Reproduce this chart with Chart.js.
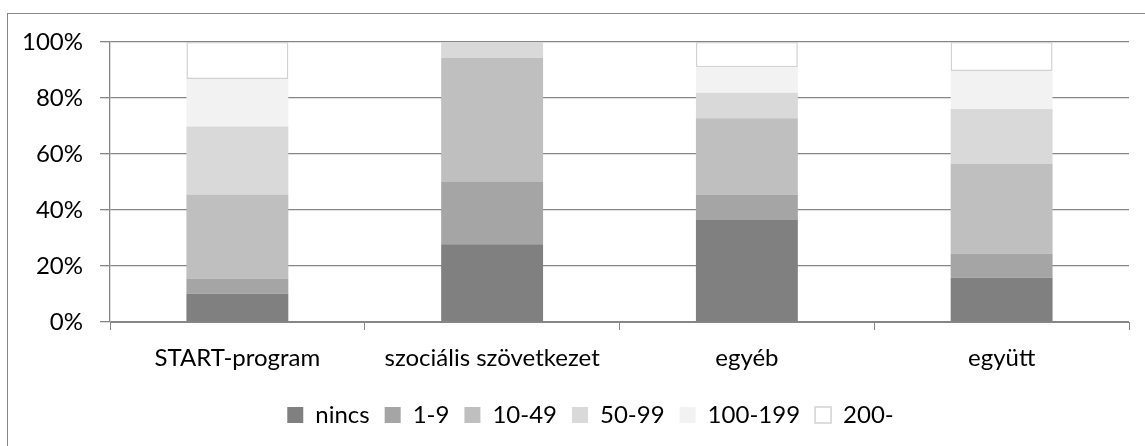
<!DOCTYPE html>
<html>
<head>
<meta charset="utf-8">
<script src="https://cdn.jsdelivr.net/npm/chart.js@4/dist/chart.umd.min.js"></script>
<style>
  html, body { margin: 0; padding: 0; background: #fff; overflow: hidden; }
  #frame { position: absolute; left: 7px; top: 13px; width: 1200px; height: 500px; border: 1px solid #868686; box-sizing: border-box; }
  #c { position: absolute; left: 0; top: 0; }
</style>
</head>
<body>
<div id="frame"></div>
<canvas id="c" width="1145" height="446"></canvas>
<script>
const categories = ["START-program", "szociális szövetkezet", "egyéb", "együtt"];
const seriesNames = ["nincs", "1-9", "10-49", "50-99", "100-199", "200-"];
const nincs = [10.1, 27.8, 36.4, 15.8];
const s1_9 = [5.4, 22.2, 9.1, 8.7];
const s10_49 = [30.0, 44.4, 27.3, 32.0];
const s50_99 = [24.3, 5.6, 9.1, 19.6];
const s100_199 = [17.0, 0, 9.1, 13.5];
const s200 = [13.2, 0, 9.0, 10.4];
const yTicks = [0, 20, 40, 60, 80, 100];

const fills = ["#808080", "#a5a5a5", "#bfbfbf", "#d9d9d9", "#f2f2f2", "#ffffff"];
const values = [nincs, s1_9, s10_49, s50_99, s100_199, s200];
const font = { family: "Lato, 'Open Sans', sans-serif", size: 24 };
const axisGray = "#868686";

const datasets = seriesNames.map((name, i) => ({
  label: name,
  data: values[i],
  backgroundColor: fills[i],
  borderColor: i === 5 ? "#d2d2d2" : fills[i],
  borderWidth: i === 5 ? 1.5 : 0,
  borderSkipped: false,
  categoryPercentage: 1,
  barPercentage: 0.4
}));

// the legend in the original is centred on the whole (wider) chart box, so nudge it right
const legendShift = {
  id: "legendShift",
  afterLayout(chart) {
    chart.legend.left += 26;
    chart.legend.right += 26;
  }
};

new Chart("c", {
  type: "bar",
  data: { labels: categories, datasets: datasets },
  plugins: [legendShift],
  options: {
    responsive: false,
    animation: false,
    layout: { padding: { left: 0, right: 16, top: 42, bottom: 9 } },
    plugins: {
      tooltip: { enabled: false },
      legend: {
        position: "bottom",
        labels: {
          boxWidth: 16,
          boxHeight: 16,
          padding: 15,
          color: "#000",
          font: font
        }
      }
    },
    scales: {
      x: {
        stacked: true,
        afterFit: (s) => { s.height = 66; },
        grid: { drawOnChartArea: false, drawTicks: true, tickLength: 8, color: axisGray, offset: true },
        border: { color: axisGray, width: 1 },
        ticks: { color: "#000", font: font, padding: 14 }
      },
      y: {
        stacked: true,
        min: 0,
        max: 100,
        afterFit: (s) => { s.width = 110; },
        afterBuildTicks: (s) => { s.ticks = yTicks.map((v) => ({ value: v })); },
        grid: { color: axisGray, tickLength: 10, lineWidth: 1.3 },
        border: { color: axisGray, width: 1.3 },
        ticks: { color: "#000", font: font, padding: 17, callback: (v) => v + "%" }
      }
    }
  }
});
</script>
</body>
</html>
